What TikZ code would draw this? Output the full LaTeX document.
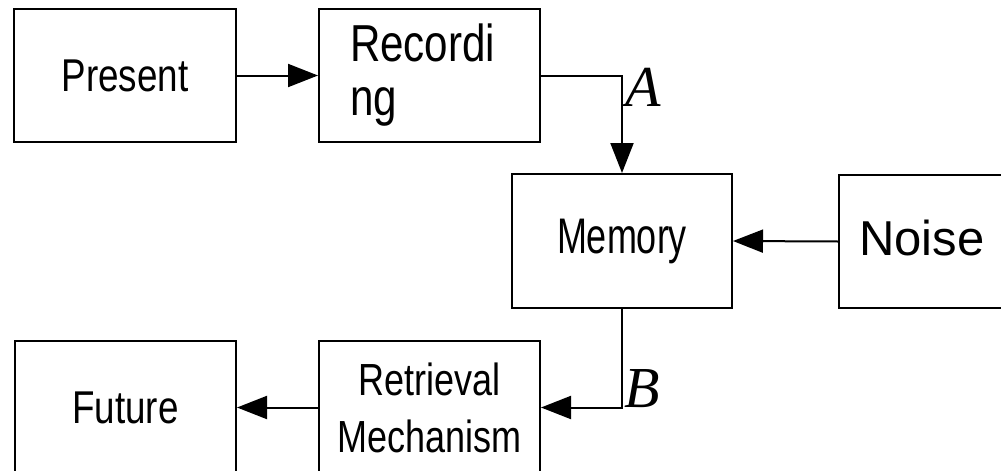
\documentclass[tikz,border=0pt]{standalone}
\usepackage{fontspec}
\setmainfont{Liberation Sans}
\newfontfamily\narrowA[FakeStretch=0.80]{Liberation Sans}
\newfontfamily\narrowB[FakeStretch=0.72]{Liberation Sans}
\newfontfamily\narrowC[FakeStretch=0.81]{Liberation Sans}
\newfontfamily\narrowD[FakeStretch=0.80]{Liberation Sans}
\newfontfamily\timesfont{Liberation Serif}
\usetikzlibrary{arrows.meta}
\tikzset{
  box/.style={draw=black, line width=2pt, rectangle, inner sep=0pt, align=center},
  conn/.style={line width=2pt, -{Triangle[length=30pt,width=23pt]}},
  lbl/.style={inner sep=0pt, anchor=base west, font=\timesfont\itshape\fontsize{58}{58}\selectfont}
}
\begin{document}
\begin{tikzpicture}[x=1pt,y=-1pt]
\useasboundingbox (0,0) rectangle (1001,471);
\clip (0,0) rectangle (1001,471);
\node[box, minimum width=222pt, minimum height=133pt, font=\narrowA\fontsize{46}{46}\selectfont] (present) at (125,75.5) {Present};
\node[box, minimum width=221pt, minimum height=133pt, text width=159pt, align=left, font=\narrowC\fontsize{52}{54}\selectfont] (recording) at (429.5,75.5) {Recordi\\ng};
\node[box, minimum width=220pt, minimum height=134pt, font=\narrowB\fontsize{50}{50}\selectfont] (memory) at (622,241) {Memory};
\node[box, minimum width=166pt, minimum height=133pt, text depth=8pt, font=\fontsize{49}{49}\selectfont] (noise) at (922,241.5) {Noise};
\node[box, minimum width=221pt, minimum height=133pt, font=\narrowA\fontsize{46}{46}\selectfont] (future) at (125.5,407.5) {Future};
\node[box, minimum width=221pt, minimum height=133pt, font=\narrowD\fontsize{45}{57}\selectfont] (retrieval) at (429.5,407.5) {Retrieval\\Mechanism};
\draw[conn] (present.east) -- (recording.west);
\draw[conn] (recording.east) -| (memory.north);
\draw[conn] (noise.west) -- (memory.east);
\draw[conn] (memory.south) |- (retrieval.east);
\draw[conn] (retrieval.west) -- (future.east);
\node[lbl] (labA) at (625,106) {A};
\node[lbl] (labB) at (624,407) {B};
\end{tikzpicture}
\end{document}
